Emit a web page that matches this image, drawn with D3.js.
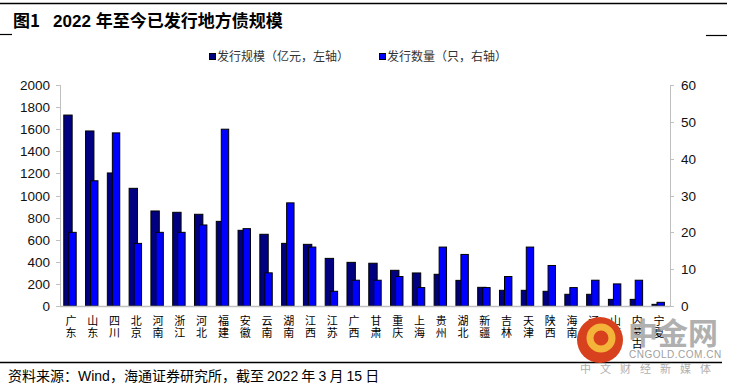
<!DOCTYPE html>
<html><head><meta charset="utf-8">
<script src="https://cdn.jsdelivr.net/npm/d3@7"></script>
<style>body{margin:0;background:#fff}svg{display:block}</style>
</head><body>
<svg id="c" width="734" height="388"></svg>
<script>
const provinces = ["广东","山东","四川","北京","河南","浙江","河北","福建","安徽","云南","湖南","江西","江苏","广西","甘肃","重庆","上海","贵州","湖北","新疆","吉林","天津","陕西","海南","辽宁","山西","内蒙古","宁夏"];
const scale = [1728,1584,1204,1065,860,848,830,766,685,649,567,558,431,395,387,323,299,287,232,169,142,142,133,106,106,60,60,15];
const count = [20,34,47,17,20,20,22,48,21,9,28,16,4,7,7,8,5,16,14,5,8,16,11,5,7,6,7,1];
const leftTicks = [0,200,400,600,800,1000,1200,1400,1600,1800,2000];
const rightTicks = [0,10,20,30,40,50,60];
const seriesNames = ["发行规模（亿元，左轴）","发行数量（只，右轴）"];

const svg = d3.select("#c");
const x0 = 60, x1 = 670, yTop = 85, yBot = 306;
const x = d3.scaleBand().domain(provinces).range([x0, x1]).padding(0);
const yL = d3.scaleLinear().domain([0,2000]).range([yBot, yTop]);
const yR = d3.scaleLinear().domain([0,60]).range([yBot, yTop]);
const bw = x.bandwidth();
const latin = "'Liberation Sans', Arial, sans-serif";
const cjk = "'Noto Sans CJK SC', sans-serif";

// top/bottom report lines
svg.append("line").attr("x1",0).attr("x2",727).attr("y1",3.5).attr("y2",3.5).attr("stroke","#000").attr("stroke-width",1.5);
svg.append("line").attr("x1",0).attr("x2",12).attr("y1",34.5).attr("y2",34.5).attr("stroke","#000").attr("stroke-width",1.2);
svg.append("line").attr("x1",706).attr("x2",727).attr("y1",35.5).attr("y2",35.5).attr("stroke","#000").attr("stroke-width",1.2);
svg.append("line").attr("x1",0).attr("x2",722).attr("y1",362.5).attr("y2",362.5).attr("stroke","#000").attr("stroke-width",1.5);

// title
const t = svg.append("text").attr("x",13).attr("y",27).attr("font-size",17).attr("font-weight","bold").attr("fill","#000");
t.append("tspan").attr("font-family",cjk).text("图1");
t.append("tspan").attr("font-family",latin).attr("dx",13).text("2022");
t.append("tspan").attr("font-family",cjk).attr("dx",5).text("年至今已发行地方债规模");

// legend
const lg = [{x:209,c:"#000080"},{x:379,c:"#0000FF"}];
lg.forEach((l,i)=>{
  svg.append("rect").attr("x",l.x+0.5).attr("y",53.5).attr("width",6).attr("height",6).attr("fill",l.c).attr("stroke","#000").attr("stroke-width",1);
  svg.append("text").attr("x",l.x+8).attr("y",61).attr("font-family",cjk).attr("font-size",12).attr("fill","#333").text(seriesNames[i]);
});

// axes lines
const grey = "#C0C0C0";
svg.append("line").attr("x1",x0+0.5).attr("x2",x0+0.5).attr("y1",yTop).attr("y2",yBot).attr("stroke",grey);
svg.append("line").attr("x1",x1+0.5).attr("x2",x1+0.5).attr("y1",yTop).attr("y2",yBot).attr("stroke",grey);

leftTicks.forEach(v=>{
  const yy = Math.round(yL(v))+0.5;
  svg.append("line").attr("x1",x0-4).attr("x2",x0).attr("y1",yy).attr("y2",yy).attr("stroke",grey);
  svg.append("text").attr("x",50).attr("y",yL(v)+5).attr("text-anchor","end").attr("font-family",latin).attr("font-size",13.5).attr("fill","#111").text(v);
});
rightTicks.forEach(v=>{
  const yy = Math.round(yR(v))+0.5;
  svg.append("line").attr("x1",x1).attr("x2",x1+4).attr("y1",yy).attr("y2",yy).attr("stroke",grey);
  svg.append("text").attr("x",681).attr("y",yR(v)+5).attr("text-anchor","start").attr("font-family",latin).attr("font-size",13.5).attr("fill","#111").text(v);
});

// bars
svg.append("g").selectAll("rect").data(provinces).join("rect")
  .attr("x",d=>x(d)+bw*0.15+0.5).attr("width",bw*0.385)
  .attr("y",(d,i)=>yL(scale[i])).attr("height",(d,i)=>yBot-yL(scale[i]))
  .attr("fill","#000080").attr("stroke","#000").attr("stroke-width",1);
svg.append("g").selectAll("rect").data(provinces).join("rect")
  .attr("x",d=>x(d)+bw*0.38+0.5).attr("width",bw*0.34)
  .attr("y",(d,i)=>yR(count[i])).attr("height",(d,i)=>yBot-yR(count[i]))
  .attr("fill","#0000FF").attr("stroke","#000").attr("stroke-width",1);

// x axis line
svg.append("line").attr("x1",x0).attr("x2",x1).attr("y1",yBot+0.5).attr("y2",yBot+0.5).attr("stroke",grey).attr("stroke-width",1.5);

// category labels (vertical)
provinces.forEach(p=>{
  const cx = x(p)+bw/2;
  [...p].forEach((ch,j)=>{
    svg.append("text").attr("x",cx).attr("y",325+j*11.5).attr("text-anchor","middle")
      .attr("font-family",cjk).attr("font-size",11).attr("fill","#000").text(ch);
  });
});

// watermark
svg.append("circle").attr("cx",600).attr("cy",340).attr("r",23).attr("fill","#D8411E");
svg.append("circle").attr("cx",601).attr("cy",338).attr("r",11).attr("fill","none").attr("stroke","#F4B43A").attr("stroke-width",7);
svg.append("text").attr("x",628).attr("y",344).attr("font-family",cjk).attr("font-size",30).attr("font-weight","bold").attr("fill","#B0B0B0").text("中金网");
svg.append("text").attr("x",629).attr("y",358).attr("font-family",latin).attr("font-size",10).attr("fill","#A0A0A0").attr("letter-spacing",0.5).text("CNGOLD.COM.CN");
svg.append("text").attr("x",580).attr("y",373).attr("font-family",cjk).attr("font-size",11).attr("fill","#B0B0B0").attr("letter-spacing",9).text("中文财经新媒体");

// source
const s = svg.append("text").attr("x",8).attr("y",381).attr("font-size",14).attr("fill","#000");
s.append("tspan").attr("font-family",cjk).text("资料来源：");
s.append("tspan").attr("font-family",latin).text("Wind");
s.append("tspan").attr("font-family",cjk).text("，海通证券研究所，截至 ");
s.append("tspan").attr("font-family",latin).text("2022");
s.append("tspan").attr("font-family",cjk).text(" 年 ");
s.append("tspan").attr("font-family",latin).text("3");
s.append("tspan").attr("font-family",cjk).text(" 月 ");
s.append("tspan").attr("font-family",latin).text("15");
s.append("tspan").attr("font-family",cjk).text(" 日");
</script>
</body></html>
